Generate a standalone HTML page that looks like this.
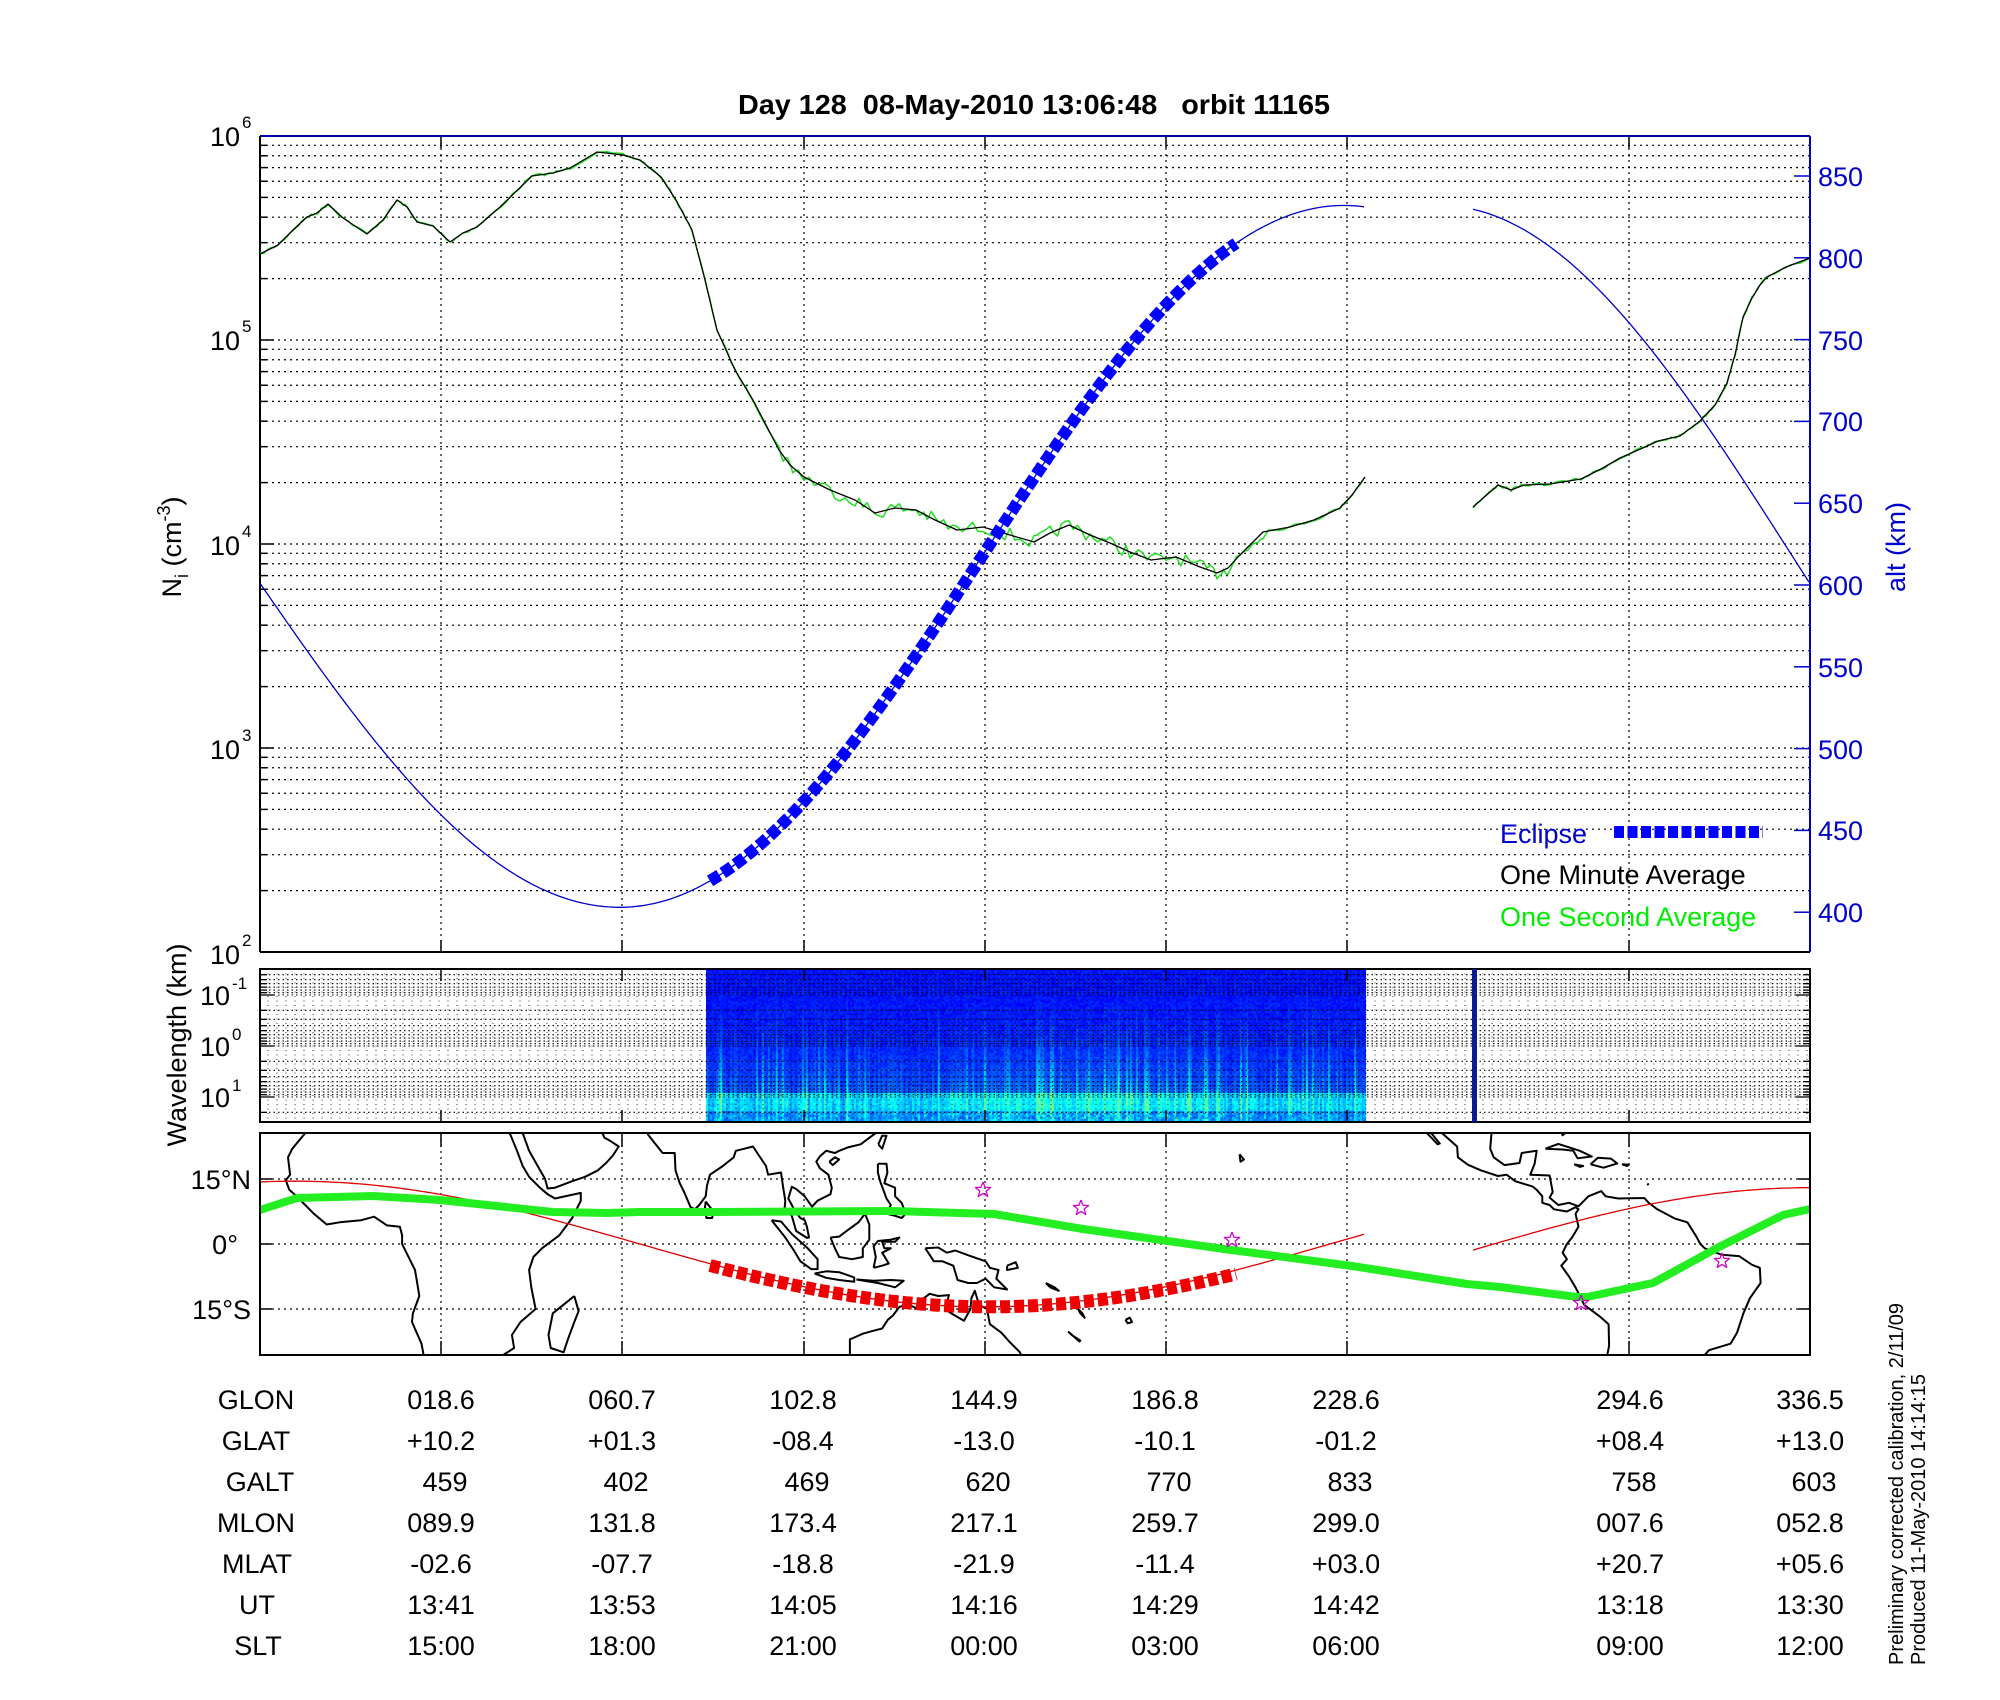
<!DOCTYPE html>
<html><head><meta charset="utf-8"><style>
html,body{margin:0;padding:0;background:#fff;}
#wrap{position:relative;width:2000px;height:1700px;overflow:hidden;}
svg{position:absolute;left:0;top:0;}
canvas{position:absolute;left:706px;top:969px;}
text{font-family:"Liberation Sans",Arial,sans-serif;}
</style></head><body><div id="wrap">
<canvas id="cv" width="660" height="153"></canvas>
<svg id="s" width="2000" height="1700" xmlns="http://www.w3.org/2000/svg">
<g id="g"></g>
<text x="1034" y="114" font-size="28" font-weight="bold" text-anchor="middle" textLength="592" lengthAdjust="spacingAndGlyphs" style="white-space:pre" xml:space="preserve">Day 128  08-May-2010 13:06:48   orbit 11165</text>
<g font-size="27" text-anchor="end">
<text x="240" y="146">10</text><text x="242" y="128" font-size="17" text-anchor="start">6</text>
<text x="240" y="350">10</text><text x="242" y="332" font-size="17" text-anchor="start">5</text>
<text x="240" y="555">10</text><text x="242" y="537" font-size="17" text-anchor="start">4</text>
<text x="240" y="759">10</text><text x="242" y="741" font-size="17" text-anchor="start">3</text>
<text x="240" y="964">10</text><text x="242" y="946" font-size="17" text-anchor="start">2</text>
</g>
<text transform="translate(181,547) rotate(-90)" font-size="27" text-anchor="middle">N<tspan font-size="18" dy="7">i</tspan><tspan dy="-7"> (cm</tspan><tspan font-size="18" dy="-11">-3</tspan><tspan dy="11">)</tspan></text>
<g font-size="27" fill="#0000cc">
<text x="1818" y="186">850</text><text x="1818" y="268">800</text><text x="1818" y="350">750</text>
<text x="1818" y="431">700</text><text x="1818" y="513">650</text><text x="1818" y="595">600</text>
<text x="1818" y="677">550</text><text x="1818" y="759">500</text><text x="1818" y="840">450</text>
<text x="1818" y="922">400</text>
</g>
<text transform="translate(1905,547) rotate(-90)" font-size="27" fill="#0000cc" text-anchor="middle">alt (km)</text>
<g font-size="27">
<text x="1500" y="843" fill="#0000cc">Eclipse</text>
<text x="1500" y="884" fill="#000">One Minute Average</text>
<text x="1500" y="926" fill="#00ee00">One Second Average</text>
</g>
<g font-size="27" text-anchor="end">
<text x="230" y="1005">10</text><text x="232" y="989" font-size="17" text-anchor="start">-1</text>
<text x="230" y="1056">10</text><text x="232" y="1040" font-size="17" text-anchor="start">0</text>
<text x="230" y="1107">10</text><text x="232" y="1091" font-size="17" text-anchor="start">1</text>
</g>
<text transform="translate(186,1045) rotate(-90)" font-size="27" text-anchor="middle">Wavelength (km)</text>
<g font-size="27" text-anchor="end">
<text x="251" y="1189">15°N</text><text x="238" y="1254">0°</text><text x="251" y="1319">15°S</text>
</g>
<g font-size="27" text-anchor="middle" transform="translate(0,-9)">
<text x="256" y="1418">GLON</text><text x="256" y="1459">GLAT</text><text x="260" y="1500">GALT</text><text x="256" y="1541">MLON</text><text x="257" y="1582">MLAT</text><text x="257" y="1623">UT</text><text x="258" y="1664">SLT</text>
<text x="441" y="1418">018.6</text><text x="441" y="1459">+10.2</text><text x="445" y="1500">459</text><text x="441" y="1541">089.9</text><text x="441" y="1582">-02.6</text><text x="441" y="1623">13:41</text><text x="441" y="1664">15:00</text>
<text x="622" y="1418">060.7</text><text x="622" y="1459">+01.3</text><text x="626" y="1500">402</text><text x="622" y="1541">131.8</text><text x="622" y="1582">-07.7</text><text x="622" y="1623">13:53</text><text x="622" y="1664">18:00</text>
<text x="803" y="1418">102.8</text><text x="803" y="1459">-08.4</text><text x="807" y="1500">469</text><text x="803" y="1541">173.4</text><text x="803" y="1582">-18.8</text><text x="803" y="1623">14:05</text><text x="803" y="1664">21:00</text>
<text x="984" y="1418">144.9</text><text x="984" y="1459">-13.0</text><text x="988" y="1500">620</text><text x="984" y="1541">217.1</text><text x="984" y="1582">-21.9</text><text x="984" y="1623">14:16</text><text x="984" y="1664">00:00</text>
<text x="1165" y="1418">186.8</text><text x="1165" y="1459">-10.1</text><text x="1169" y="1500">770</text><text x="1165" y="1541">259.7</text><text x="1165" y="1582">-11.4</text><text x="1165" y="1623">14:29</text><text x="1165" y="1664">03:00</text>
<text x="1346" y="1418">228.6</text><text x="1346" y="1459">-01.2</text><text x="1350" y="1500">833</text><text x="1346" y="1541">299.0</text><text x="1346" y="1582">+03.0</text><text x="1346" y="1623">14:42</text><text x="1346" y="1664">06:00</text>
<text x="1630" y="1418">294.6</text><text x="1630" y="1459">+08.4</text><text x="1634" y="1500">758</text><text x="1630" y="1541">007.6</text><text x="1630" y="1582">+20.7</text><text x="1630" y="1623">13:18</text><text x="1630" y="1664">09:00</text>
<text x="1810" y="1418">336.5</text><text x="1810" y="1459">+13.0</text><text x="1814" y="1500">603</text><text x="1810" y="1541">052.8</text><text x="1810" y="1582">+05.6</text><text x="1810" y="1623">13:30</text><text x="1810" y="1664">12:00</text>
</g>
<text transform="translate(1903,1665) rotate(-90)" font-size="20">Preliminary corrected calibration, 2/11/09</text>
<text transform="translate(1925,1665) rotate(-90)" font-size="20">Produced 11-May-2010 14:14:15</text>
</svg>
</div>
<script>
var NS="http://www.w3.org/2000/svg",G=document.getElementById('g');
function el(t,a){var e=document.createElementNS(NS,t);for(var k in a)e.setAttribute(k,a[k]);G.appendChild(e);return e;}
function line(x1,y1,x2,y2,c,w,d){var a={x1:x1,y1:y1,x2:x2,y2:y2,stroke:c||'#000','stroke-width':w||1.5};if(d)a['stroke-dasharray']=d;return el('line',a);}
function pl(pts,c,w,extra){var a={points:pts.map(function(p){return p[0].toFixed(1)+','+p[1].toFixed(1)}).join(' '),fill:'none',stroke:c,'stroke-width':w,'stroke-linejoin':'round'};for(var k in extra)a[k]=extra[k];return el('polyline',a);}
var seed=7;function rnd(){seed=(seed*16807)%2147483647;return seed/2147483647;}
var L=260,R=1810,GX=[441,622,804,985,1166,1347,1629],DOT='2,4';
var T=136,B=952,DEC=204;
for(var k=2;k<6;k++)for(var m=1;m<10;m++){var y=B-(k-2+Math.log10(m))*DEC;if(y<=T+1||y>=B-1)continue;line(L,y,R,y,'#000',1.2,DOT);line(L,y,L+(m==1?14:7),y,'#000',1.5);}
GX.forEach(function(x){line(x,T,x,B,'#000',1.2,DOT);line(x,B,x,B-12,'#000',1.5);line(x,T,x,T+12,'#000',1.5);});
for(var a=400;a<=850;a+=50){var y=585-(a-600)*1.636;line(R-16,y,R,y,'#0000cc',1.5);}
line(L,T,R,T,'#0000aa',2);line(L,T,L,B,'#000',2);line(L,B,R,B,'#000',2);line(R,T,R,B,'#0000cc',2);
function altY(a){return 585-(a-600)*1.636;}
function altL(x){var D=x<620?757:724;return 617.5-214.5*Math.cos(Math.PI*(x-620)/D);}
var ap=[];for(var x=260;x<=1366;x+=3)ap.push([x,altY(altL(x))]);
pl(ap,'#0000cc',1.3);
var ap2=[];for(var x=1473;x<=1810;x+=3)ap2.push([x,altY(617.5+214.5*Math.cos(Math.PI*(x-1440)/705))]);
pl(ap2,'#0000cc',1.3);
var d1=[[260,254],[278,245],[293,230],[307,217],[317,213],[328,204],[343,218],[367,234],[383,220],[397,200],[407,207],[417,222],[433,226],[450,242],[463,233],[477,227],[500,207],[532,176],[553,173],[570,168],[597,152],[623,155],[640,160],[661,177],[676,200],[692,230],[705,280],[717,330],[735,370],[753,400],[779,450],[790,465],[804,477],[830,490],[855,500],[875,513],[895,508],[916,510],[935,520],[957,530],[983,527],[1010,535],[1034,542],[1050,533],[1069,525],[1090,535],[1110,543],[1130,552],[1151,560],[1176,557],[1200,567],[1217,573],[1228,568],[1238,557],[1250,545],[1263,532],[1290,527],[1314,520],[1340,508],[1352,495],[1365,477]];
var d2=[[1473,507],[1490,492],[1498,485],[1511,490],[1524,485],[1550,484],[1581,479],[1601,469],[1620,458],[1645,447],[1658,441],[1680,436],[1700,421],[1715,405],[1727,383],[1735,355],[1743,317],[1752,298],[1760,285],[1767,277],[1786,267],[1810,258]];
function noisy(p,amp){var o=[];for(var i=0;i<p.length-1;i++){var a=p[i],b=p[i+1];for(var t=0;t<1;t+=0.2){var x=a[0]+(b[0]-a[0])*t,y=a[1]+(b[1]-a[1])*t;var am=(x>770&&x<1270)?amp:1.5;o.push([x,y+(rnd()-0.5)*am*2]);}}o.push(p[p.length-1]);return o;}
pl(noisy(d1,7),'#22dd22',1.5);pl(noisy(d2,1.5),'#22dd22',1.5);
pl(d1,'#000',1.3);pl(d2,'#000',1.3);
var ep=[];for(var x=710;x<=1236;x+=2)ep.push([x,altY(altL(x))]);
pl(ep,'#0000ff',12,{'stroke-dasharray':'11,4','stroke-linejoin':'miter'});
line(1614,832,1763,832,'#0000ff',12,'10,3.5');
var ST=969,SB=1122;
function wy(v){return 995+Math.log10(v/0.1)*51;}
[0.01,0.1,1,10].forEach(function(dc){for(var m=1;m<10;m++){var y=wy(dc*m);if(y<=ST+1||y>=SB-1)continue;line(L,y,R,y,'#000',1.1,'1.5,3');line(L,y,L+(m==1?14:7),y,'#000',1.3);line(R,y,R-(m==1?14:7),y,'#000',1.3);}});
for(var x=L+8;x<R;x+=9)line(x,ST,x,SB,'#000',0.8,'1,3.5');
GX.forEach(function(x){line(x,ST,x,ST+12,'#000',1.5);line(x,SB,x,SB-12,'#000',1.5);});
el('rect',{x:L,y:ST,width:R-L,height:SB-ST,fill:'none',stroke:'#000','stroke-width':2});
el('rect',{x:1472,y:ST,width:5,height:SB-ST,fill:'#0a1a9a'});
var MT=1133,MB=1355;
function MX(lon){return 260+((lon+23.5+720)%360)*4.306;}function MY(lat){return 1244-lat*4.333;}
[15,0,-15].forEach(function(la){var y=MY(la);line(L,y,R,y,'#000',1.2,DOT);line(L,y,L+12,y,'#000',1.5);line(R,y,R-12,y,'#000',1.5);});
GX.forEach(function(x){line(x,MT,x,MB,'#000',1.2,DOT);line(x,MB,x,MB-14,'#000',1.5);line(x,MT,x,MT+14,'#000',1.5);});
var coasts=[
[[-13,25.6],[-16,22],[-17,20],[-16.5,16],[-17.5,14.7],[-16.7,12.5],[-15,11],[-13,9],[-11,7],[-8,4.5],[-5,5],[0,5.5],[3,6.3],[6,4.3],[9,4],[9.5,2],[9.5,0],[11.5,-4],[12.5,-6],[13,-9],[13.5,-12],[12,-16],[11.8,-18],[14,-23],[14.5,-25.6]],
[[34.5,25.6],[36,22],[37.5,18],[39,15.5],[41.5,13],[43.3,11.5],[45,10.5],[51,11.8],[51,10],[49,6],[46,2],[42,-1],[40,-3],[39,-6],[39.5,-10],[40.5,-15],[37,-18],[35,-21],[35.5,-24],[33,-25.6]],
[[37.5,25.6],[39,21.5],[41,18],[42.7,15],[43.3,12.8],[45,13],[49,14.5],[52,15.5],[55,17],[57,18.8],[58.5,20.5],[59.8,22.5],[58,23.7],[56.5,24.5],[56,25.6]],
[[49.5,-12],[50.5,-15.5],[49.5,-18],[48,-22],[47,-25],[44,-24],[43.5,-21],[44.5,-16],[47,-14],[49.5,-12]],
[[66.5,25.4],[68,23.5],[70,21],[72.8,21],[73,17],[74,14],[75,12],[76.5,8.5],[77.5,8],[78.5,9],[80,11],[80.3,13.5],[81,16],[84,18],[86.5,20],[87,21.5],[89,22],[91,22.5],[92,21],[94,18],[94.5,16],[97.5,16.5],[98,13],[98.5,10],[98.3,8],[100,6.5],[101,3],[103.5,1.4],[104,1.5],[103.5,4],[103,5.5],[102,6],[100.8,7.5],[100,9],[99.2,10.5],[100,13.2],[101,12.7],[103,11],[104.7,8.6],[106,10],[107,10.5],[109,11.5],[109.3,13],[108.5,16],[106.5,17.5],[105.7,19],[106.5,20.2],[108,21.5],[110,21],[111,21.5],[113,22.3],[116,23],[118,24.5],[119.5,25.6]],
[[80,9.8],[81.8,7.5],[81.5,6],[80.2,6],[79.8,8],[80,9.8]],
[[95.3,5.5],[97.5,5.2],[100,2.3],[103.7,-1],[106,-3.5],[106,-5.8],[104.5,-5.8],[102,-4],[100.5,-1.5],[98.5,1.5],[95.3,5.5]],
[[105.3,-6.8],[108,-6.3],[111,-6.5],[114.5,-7.7],[114.5,-8.7],[111,-8.3],[108,-7.8],[105.3,-6.8]],
[[109,1.5],[110,-1],[111,-3],[114,-3.5],[116.5,-3],[116.5,-1],[118,1],[118,4.5],[117,7],[115.5,5],[113,3.2],[111,1.7],[109,1.5]],
[[119,-5.5],[119.5,-3],[119,-0.5],[120,0.7],[123,1],[125,1.5],[124,0.5],[121,0.5],[121.5,-1],[123,-1],[121,-2],[122.5,-4.5],[121,-5],[119,-5.5]],
[[120,18.5],[122,18.5],[122.2,16.5],[121.5,14],[124,13],[124,11],[125.5,9.5],[126.5,7],[125.5,6],[124,6.5],[122,7],[123,9],[122,10.5],[120.5,14.5],[120,16.5],[120,18.5]],
[[120.1,23],[121,25],[122,25],[121,22],[120.1,23]],
[[108.7,19],[110,20],[111,19.5],[109.5,18.2],[108.7,19]],
[[115,-8.2],[119,-8.5],[123,-8.3],[126,-8.5],[124,-10],[120,-9],[115,-8.2]],
[[131,-1],[134,-0.8],[136,-2],[138,-1.5],[141,-2.6],[145,-4],[146,-5.5],[148,-6],[147.5,-8],[150,-10.5],[147,-10],[145,-8],[143,-9],[141,-9],[138.5,-8.3],[137.5,-5],[135,-4],[133,-4],[132,-2.5],[131,-1]],
[[113.5,-25.6],[113.5,-22],[114,-21.8],[116.5,-20.7],[119,-20],[121,-19.5],[122.3,-17.5],[123.5,-16.5],[125,-14.5],[127,-14],[129.5,-15],[130,-13],[132,-11.5],[134,-12],[136.5,-11.8],[136,-13.5],[135.5,-15],[137.5,-16.3],[140,-17.7],[141.5,-15],[141.7,-12.5],[142.5,-10.8],[143.5,-14],[145.3,-15],[146,-18.5],[148.7,-20.5],[150.5,-22.5],[153,-25],[153.2,-25.6]],
[[150,-5],[152,-4.2],[152.5,-5.5],[150,-6],[150,-5]],
[[159,-9],[161,-10],[162,-10.8],[160,-10],[159,-9]],
[[166.5,-15],[167.5,-16],[168,-17],[167,-16],[166.5,-15]],
[[165,-21],[167,-22.3],[166.8,-22.5],[164.3,-20.3],[165,-21]],
[[177.5,-17.5],[178.5,-17],[179,-18],[178,-18.3],[177.5,-17.5]],
[[-156,20.7],[-155,19.5],[-155.8,19],[-156,20.7]],
[[-112.5,25.6],[-110,23],[-109.5,23.2],[-111.5,25.6]],
[[-109,25.6],[-105.5,22.5],[-105.3,20],[-103,18.3],[-100,17],[-96,15.7],[-94,16],[-92,14.5],[-88,13.3],[-87,12.5],[-85.7,11],[-85.7,9.5],[-84,9],[-83,8],[-80,7.5],[-78,8.5],[-77.3,8],[-78,7],[-77.3,4],[-78.8,1.5],[-80,0],[-81,-2],[-80,-3.5],[-81.3,-5],[-79.5,-7.5],[-78,-10],[-76,-14],[-72,-17],[-70.3,-18.5],[-70.2,-23.5],[-70.6,-25.6]],
[[-97.5,25.6],[-97.8,22],[-97,20],[-94.5,18.2],[-91,18.7],[-90.5,21],[-87,21.5],[-87.5,18.5],[-88.5,16],[-84,15.8],[-83.3,12],[-84,10.7],[-82,9],[-79.5,9.5],[-77.3,8.7],[-76,10],[-75,11],[-72,12.2],[-71,11],[-68,10.5],[-64,10.6],[-62,10.6],[-61,9.5],[-59,8],[-55,5.9],[-52,5],[-50,1.8],[-49,0],[-48,-1],[-44,-2.5],[-40,-2.8],[-37,-4.8],[-35.2,-5.5],[-35,-9],[-37.5,-12.5],[-39,-16],[-40.5,-20.5],[-42,-23],[-47,-24.5],[-48,-25.6]],
[[-85,22],[-82,23.1],[-77,21.5],[-74.2,20.2],[-77.5,19.8],[-78.5,21.5],[-81,21.8],[-85,22]],
[[-74.5,18.4],[-72.8,19.9],[-69.8,19.7],[-68.3,18.6],[-71.5,17.6],[-74.5,18.4]],
[[-78.3,18.4],[-76.2,18],[-77,17.8],[-78.3,18.4]],
[[-67.2,18.4],[-65.6,18.3],[-66,18],[-67.2,18.4]],
[[-80.4,25.6],[-81,25.1],[-81.2,25.6]],
[[-61,14],[-61.2,13.7],[-61,14]]];
coasts.forEach(function(c){pl(c.map(function(p){return [MX(p[0]),MY(p[1])]}),'#000',2);});
var r1=[];for(var x=260;x<=1366;x+=4){r1.push([x,MY(-14.5*Math.cos(Math.PI*(x-985)/690))]);}
pl(r1,'#dd0000',1.3);
var r2=[];for(var x=1473;x<=1810;x+=4){r2.push([x,MY(-1.4+14.4*Math.sin(Math.PI/2*(x-1473)/337))]);}
pl(r2,'#dd0000',1.3);
pl([[260,1210],[297,1198],[373,1196],[440,1200],[553,1212],[607,1213],[640,1212],[713,1212],[892,1211],[994,1214],[1083,1229],[1224,1249],[1352,1266],[1467,1284],[1500,1287],[1577,1297],[1587,1297],[1653,1283],[1717,1248],[1783,1215],[1810,1209]],'#22ee22',8);
var re=[];for(var x=710;x<=1236;x+=2){re.push([x,MY(-14.5*Math.cos(Math.PI*(x-990)/720))]);}
pl(re,'#ee0000',13,{'stroke-dasharray':'10,4','stroke-linejoin':'miter'});
function star(cx,cy,r){var p=[];for(var i=0;i<10;i++){var a=-Math.PI/2+i*Math.PI/5,rr=i%2?r*0.42:r;p.push([cx+rr*Math.cos(a),cy+rr*Math.sin(a)]);}p.push(p[0]);pl(p,'#cc00cc',1.3);}
[[983,1190],[1081,1208],[1232,1240],[1581,1303],[1722,1261]].forEach(function(s){star(s[0],s[1],8);});
el('rect',{x:L,y:MT,width:R-L,height:MB-MT,fill:'none',stroke:'#000','stroke-width':2});
var cv=document.getElementById('cv'),cx=cv.getContext('2d'),W=660,H=153;
function jet(v){v=Math.max(0,Math.min(1,v));var r=Math.max(0,Math.min(1,1.5-Math.abs(4*v-3))),g=Math.max(0,Math.min(1,1.5-Math.abs(4*v-2))),b=Math.max(0,Math.min(1,1.5-Math.abs(4*v-1)));return 'rgb('+(r*255|0)+','+(g*255|0)+','+(b*255|0)+')';}
for(var x=0;x<W;x+=2){var act=0.3+0.7*rnd();if(x>240&&x<520)act+=0.25;var st=rnd()<0.3?rnd()*0.3:0;
for(var y=0;y<H;y+=2){var f=y/H;var v=0.12+0.05*rnd();v+=Math.pow(f,3)*0.18*act+st*Math.pow(f,2);if(y>H-30)v=0.2+0.14*act+0.08*rnd()+st*0.35;if(y>H-12)v=0.2+0.2*act*rnd()+st*0.4;cx.fillStyle=jet(v);cx.fillRect(x,y,2,2);}}
</script>
</body></html>
